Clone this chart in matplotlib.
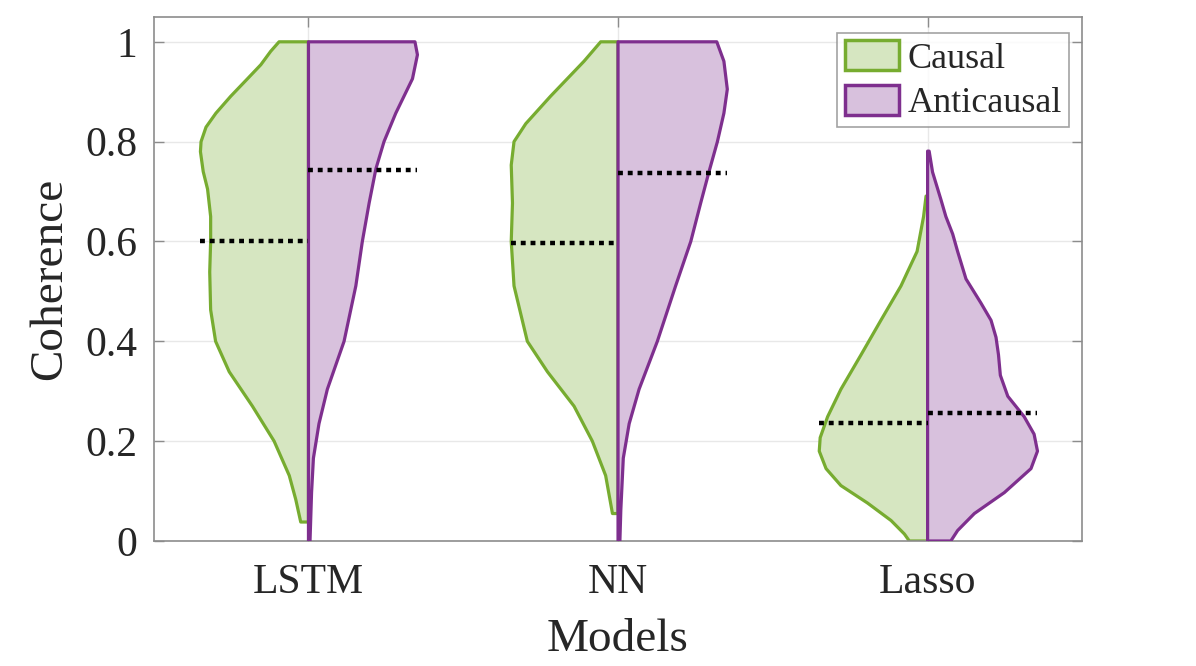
import matplotlib
matplotlib.use("Agg")
import matplotlib.pyplot as plt
from matplotlib.patches import Polygon, Patch
import numpy as np

plt.rcParams['font.family'] = ['Liberation Serif', 'DejaVu Serif']

models = ["LSTM", "NN", "Lasso"]
series = ["Causal", "Anticausal"]

# violin outlines: coherence level -> half width (x units)
lstm_c_y = [0.038, 0.083, 0.131, 0.2, 0.27, 0.339, 0.4, 0.463, 0.539, 0.6, 0.65, 0.705, 0.74, 0.78, 0.80, 0.829, 0.857, 0.891, 0.926, 0.954, 0.981, 1.0]
lstm_c_w = [0.025, 0.041, 0.062, 0.111, 0.181, 0.256, 0.30, 0.316, 0.319, 0.316, 0.316, 0.326, 0.340, 0.349, 0.347, 0.331, 0.299, 0.251, 0.197, 0.154, 0.122, 0.095]
lstm_a_y = [0.0, 0.097, 0.166, 0.235, 0.304, 0.4, 0.511, 0.6, 0.677, 0.746, 0.8, 0.857, 0.926, 0.974, 1.0]
lstm_a_w = [0.005, 0.01, 0.016, 0.034, 0.061, 0.115, 0.153, 0.174, 0.196, 0.218, 0.244, 0.282, 0.336, 0.352, 0.344]

nn_c_y = [0.055, 0.131, 0.2, 0.27, 0.339, 0.4, 0.511, 0.6, 0.677, 0.753, 0.8, 0.836, 0.891, 0.961, 1.0]
nn_c_w = [0.018, 0.040, 0.083, 0.142, 0.228, 0.293, 0.336, 0.345, 0.341, 0.345, 0.336, 0.298, 0.218, 0.11, 0.056]
nn_a_y = [0.0, 0.062, 0.166, 0.235, 0.304, 0.4, 0.511, 0.6, 0.677, 0.74, 0.8, 0.857, 0.905, 0.961, 1.0]
nn_a_w = [0.006, 0.009, 0.017, 0.036, 0.068, 0.127, 0.186, 0.235, 0.267, 0.294, 0.321, 0.342, 0.353, 0.342, 0.319]

lasso_c_y = [0.0, 0.014, 0.041, 0.076, 0.111, 0.145, 0.18, 0.207, 0.249, 0.304, 0.373, 0.442, 0.511, 0.539, 0.58, 0.65, 0.691]
lasso_c_w = [0.059, 0.075, 0.118, 0.194, 0.28, 0.328, 0.35, 0.347, 0.323, 0.28, 0.215, 0.151, 0.086, 0.065, 0.034, 0.013, 0.005]
lasso_a_y = [0.0, 0.021, 0.055, 0.097, 0.145, 0.18, 0.214, 0.249, 0.29, 0.332, 0.373, 0.408, 0.442, 0.477, 0.525, 0.58, 0.615, 0.65, 0.684, 0.739, 0.781]
lasso_a_w = [0.075, 0.097, 0.151, 0.248, 0.334, 0.355, 0.344, 0.312, 0.259, 0.235, 0.229, 0.221, 0.205, 0.172, 0.124, 0.097, 0.081, 0.059, 0.043, 0.016, 0.005]

# dotted lines (medians)
median_c = [0.600, 0.596, 0.236]
median_a = [0.743, 0.738, 0.257]

green = '#77AC30'
purple = '#7E2F8E'
green_fill = '#D6E6C1'
purple_fill = '#D8C1DD'

fig = plt.figure(figsize=(11.96, 6.66), dpi=100)
ax = fig.add_axes([0.1285, 0.1877, 0.7765, 0.787])

outlines = [(lstm_c_y, lstm_c_w, lstm_a_y, lstm_a_w),
            (nn_c_y, nn_c_w, nn_a_y, nn_a_w),
            (lasso_c_y, lasso_c_w, lasso_a_y, lasso_a_w)]

for i, (cy, cw, ay, aw) in enumerate(outlines):
    x0 = i + 1
    cy, cw, ay, aw = map(np.array, (cy, cw, ay, aw))
    # causal half (left)
    pts = list(zip(x0 - cw, cy)) + [(x0, cy[-1]), (x0, cy[0])]
    ax.add_patch(Polygon(pts, closed=True, facecolor=green_fill, edgecolor=green,
                         lw=2.3, joinstyle='round', zorder=2))
    # anticausal half (right)
    pts = list(zip(x0 + aw, ay)) + [(x0, ay[-1]), (x0, ay[0])]
    ax.add_patch(Polygon(pts, closed=True, facecolor=purple_fill, edgecolor=purple,
                         lw=2.3, joinstyle='round', zorder=3))
    ax.plot([x0 - cw.max(), x0], [median_c[i]] * 2, color='black', lw=3.2,
            ls=(0, (1.1, 1.1)), zorder=4)
    ax.plot([x0, x0 + aw.max()], [median_a[i]] * 2, color='black', lw=3.2,
            ls=(0, (1.1, 1.1)), zorder=4)

ax.set_xlim(0.5, 3.5)
ax.set_ylim(0, 1.05)
ax.set_xticks([1, 2, 3])
ax.set_xticklabels(models)
ax.set_yticks([0, 0.2, 0.4, 0.6, 0.8, 1.0])
ax.set_yticklabels(['0', '0.2', '0.4', '0.6', '0.8', '1'])
ax.grid(True, color='#e8e8e8', lw=1.0, zorder=0)
ax.set_axisbelow(True)
ax.tick_params(direction='in', length=7, width=1, color='#8c8c8c',
               top=True, right=True, labelsize=30, labelcolor='#262626', pad=12)
ax.tick_params(axis='x', pad=16)
for s in ax.spines.values():
    s.set_color('#8c8c8c')
    s.set_linewidth(1.2)

ax.set_xlabel('Models', fontsize=34, color='#262626', labelpad=12)
ax.set_ylabel('Coherence', fontsize=34, color='#262626', labelpad=10)

handles = [Patch(facecolor=green_fill, edgecolor=green, lw=2.5, label=series[0]),
           Patch(facecolor=purple_fill, edgecolor=purple, lw=2.5, label=series[1])]
leg = ax.legend(handles=handles, loc='upper right', bbox_to_anchor=(0.986, 0.969),
                fontsize=26, frameon=True, fancybox=False, borderpad=0.2,
                handlelength=1.5, handleheight=0.9, handletextpad=0.25,
                labelspacing=0.25, borderaxespad=0)
leg.get_frame().set_edgecolor('#8c8c8c')
leg.get_frame().set_linewidth(1.2)
for t in leg.get_texts():
    t.set_color('#262626')

fig.savefig('out.png', dpi=100)
